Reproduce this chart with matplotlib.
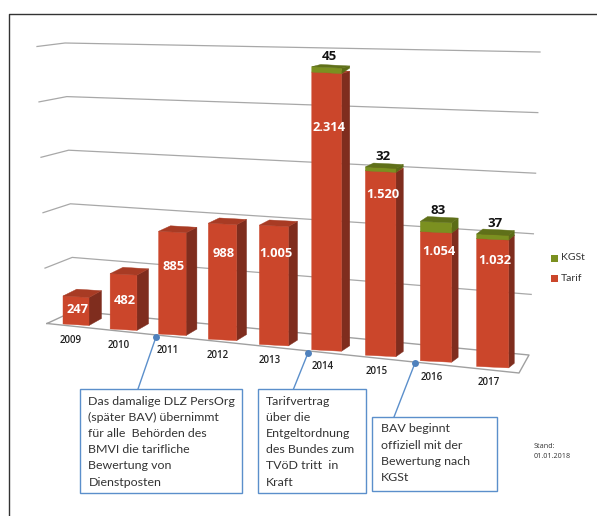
import matplotlib
matplotlib.use("Agg")
import matplotlib.pyplot as plt
from matplotlib.patches import Polygon, Rectangle

years = ["2009", "2010", "2011", "2012", "2013", "2014", "2015", "2016", "2017"]
tarif = [247, 482, 885, 988, 1005, 2314, 1520, 1054, 1032]
kgst = [0, 0, 0, 0, 0, 45, 32, 83, 37]
tarif_labels = ["247", "482", "885", "988", "1.005", "2.314", "1.520", "1.054", "1.032"]
kgst_labels = ["", "", "", "", "", "45", "32", "83", "37"]
grid_values = [500, 1000, 1500, 2000, 2500]
label_frac = [0.52, 0.51, 0.66, 0.74, 0.765, 0.80, 0.87, 0.845, 0.83]
callouts = [
    "Das damalige DLZ PersOrg\n(später BAV) übernimmt\nfür alle  Behörden des\nBMVI die tarifliche\nBewertung von\nDienstposten",
    "Tarifvertrag\nüber die\nEntgeltordnung\ndes Bundes zum\nTVöD tritt  in\nKraft",
    "BAV beginnt\noffiziell mit der\nBewertung nach\nKGSt",
]
RED, RED_S, RED_T = "#CB462B", "#7F2D1E", "#A83B24"
GRN, GRN_S, GRN_T = "#7B9020", "#5B6C17", "#5F7019"
BLUE = "#5B8FCB"
TXT = "#333333"
FONT = "Lato"

fig = plt.figure(figsize=(5.97, 5.16), dpi=100)
ax = fig.add_axes([0, 0, 1, 1])
ax.set_xlim(0, 597)
ax.set_ylim(516, 0)
ax.axis("off")

# perspective scales of the pictured 3D chart
def left(i): return 63 + 46.5 * i + 0.65 * i * i
def width(i): return 26 + 0.75 * i
def base(i): return 324 + 4.9 * i + 0.05 * i * i
def scale(i): return 0.1135 + 0.0013 * i
def depth_x(i): return 12.5 - 0.85 * i

# frame
ax.plot([8.5, 8.5, 597], [516, 14, 14], color="#333333", lw=1.0)

# walls and floor
FL, BL, BR, FR = (47, 323.5), (74, 311), (529, 355), (519, 373)
floor = [FL, BL, BR, FR, FL]
ax.plot(*zip(*floor), color="#A0A0A0", lw=1.0, zorder=1)
for v in grid_values:
    f = v / 2500
    xs = [47 - 10 * f, 74 - 9 * f, 529 + 11 * f]
    ys = [323.5 - 0.1108 * v, 311 - 0.1072 * v, 355 - 0.1212 * v]
    ax.plot(xs, ys, color="#A8A8A8", lw=0.9, zorder=1)

def box3d(i, y_front, h, front, side, top, z):
    x0, x1 = left(i), left(i) + width(i)
    dx = depth_x(i)
    tilt = 1.5
    total_h = base(i) - (y_front - h)
    dy = max(7.3 - 0.018 * total_h, 2.0)
    dyb = 7.0 - 0.3 * i
    y0b, y1b = y_front, y_front + tilt
    y0t, y1t = y_front - h, y_front - h + tilt
    ax.add_patch(Polygon([(x1, y1b), (x1 + dx, y1b - dyb), (x1 + dx, y1t - dy), (x1, y1t)],
                         fc=side, ec=side, lw=0.3, zorder=z))
    ax.add_patch(Polygon([(x0, y0b), (x1, y1b), (x1, y1t), (x0, y0t)],
                         fc=front, ec=front, lw=0.3, zorder=z))
    ax.add_patch(Polygon([(x0, y0t), (x1, y1t), (x1 + dx, y1t - dy), (x0 + dx * 1.1, y0t - dy)],
                         fc=top, ec=top, lw=0.3, zorder=z))

for i, yr in enumerate(years):
    z = 3 + i * 0.01
    s = scale(i)
    h_t, h_k = tarif[i] * s, kgst[i] * s
    box3d(i, base(i), h_t, RED, RED_S, RED_T, z)
    cx = left(i) + width(i) / 2
    if kgst[i]:
        box3d(i, base(i) - h_t, h_k, GRN, GRN_S, GRN_T, z + 0.001)
        ax.text(cx + 2.5, base(i) - h_t - h_k - 10.5, kgst_labels[i], ha="center", va="center",
                fontsize=9.5, fontweight="bold", color="#111111", family="Open Sans", zorder=6)
    ax.text(cx + 1.5 + (1 if i >= 5 else 0), base(i) - h_t * label_frac[i], tarif_labels[i],
            ha="center", va="center",
            fontsize=9.3, fontweight="bold", color="white", family="Open Sans", zorder=6)
    ax.text(cx - 5 + 0.15 * i, base(i) + 16.5, yr, ha="center", va="center",
            fontsize=7, fontweight="semibold", color="#222222", family="Open Sans", zorder=6)

# legend
for y, c, t in [(258, GRN, "KGSt"), (278.5, RED, "Tarif")]:
    ax.add_patch(Rectangle((551, y - 3.5), 7, 7, fc=c, ec="none"))
    ax.text(561, y, t, fontsize=7.5, va="center", ha="left", color=TXT, family=FONT)

# annotation boxes
boxes = [(80, 389, 162, 104), (258, 389, 108, 104), (372, 417, 125, 74)]
leaders = [((156, 337), (138, 389)), ((308, 353), (293.5, 389)), ((415, 363), (394, 417))]
pads = [(88.5, 401.5), (266, 401.5), (381, 429)]
for (x, y, w, h), ((dx, dy), (lx, ly)), (px, py), t in zip(boxes, leaders, pads, callouts):
    ax.plot([dx, lx], [dy, ly], color=BLUE, lw=1, zorder=7)
    ax.plot(dx, dy, "o", color="#4F81BD", ms=5, mew=0, zorder=8)
    ax.add_patch(Rectangle((x, y), w, h, fc="white", ec=BLUE, lw=1, zorder=7))
    for k, line in enumerate(t.split("\n")):
        ax.text(px, py + k * 16.1, line, fontsize=8.9, va="center", ha="left",
                color=TXT, family=FONT, zorder=8)

ax.text(534, 447, "Stand:", fontsize=5.2, va="center", ha="left", color=TXT, family="Open Sans")
ax.text(534, 457, "01.01.2018", fontsize=5.2, va="center", ha="left", color=TXT, family="Open Sans")

fig.savefig("out.png", dpi=100)
